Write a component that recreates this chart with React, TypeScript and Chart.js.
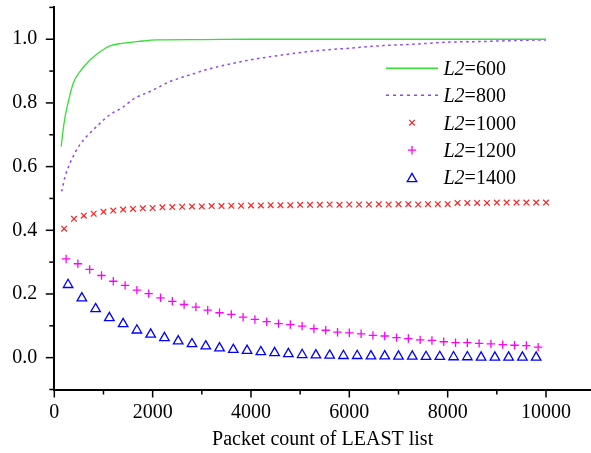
import { useEffect, useRef } from 'react';
import { Chart, registerables } from 'chart.js';

Chart.register(...registerables);

const FONT = '"Liberation Serif", "Times New Roman", serif';

// L2 values shown in legend
const l2Labels = ['600', '800', '1000', '1200', '1400'];

// L2=600 (solid green line)
const l2_600_x = [140, 180, 220, 285, 385, 520, 725, 930, 1130, 1370, 1710, 2080, 3000, 4000, 5000, 6000, 7000, 8000, 9000, 10000];
const l2_600_y = [0.663, 0.716, 0.757, 0.804, 0.862, 0.898, 0.935, 0.961, 0.979, 0.987, 0.993, 0.998, 0.999, 1.0, 1.0, 1.0, 1.0, 1.0, 1.0, 1.0];

// L2=800 (dotted purple line)
const l2_800_x = [150, 220, 320, 420, 520, 660, 895, 1130, 1370, 1640, 1950, 2350, 2760, 3130, 3980, 4660, 5340, 6010, 6690, 7370, 8050, 8720, 9400, 10000];
const l2_800_y = [0.522, 0.569, 0.611, 0.643, 0.669, 0.695, 0.731, 0.763, 0.784, 0.815, 0.836, 0.867, 0.888, 0.906, 0.935, 0.951, 0.964, 0.972, 0.980, 0.985, 0.991, 0.993, 0.996, 0.998];

// L2=1000 (red x markers)
const l2_1000_x = [200, 400, 600, 800, 1000, 1200, 1400, 1600, 1800, 2000, 2200, 2400, 2600, 2800, 3000, 3200, 3400, 3600, 3800, 4000, 4200, 4400, 4600, 4800, 5000, 5200, 5400, 5600, 5800, 6000, 6200, 6400, 6600, 6800, 7000, 7200, 7400, 7600, 7800, 8000, 8200, 8400, 8600, 8800, 9000, 9200, 9400, 9600, 9800, 10000];
const l2_1000_y = [0.405, 0.436, 0.446, 0.452, 0.458, 0.462, 0.465, 0.467, 0.469, 0.470, 0.472, 0.473, 0.474, 0.475, 0.475, 0.476, 0.476, 0.477, 0.477, 0.478, 0.478, 0.479, 0.479, 0.479, 0.480, 0.480, 0.480, 0.481, 0.480, 0.481, 0.481, 0.481, 0.482, 0.481, 0.482, 0.482, 0.481, 0.482, 0.482, 0.482, 0.486, 0.486, 0.486, 0.486, 0.487, 0.487, 0.487, 0.487, 0.487, 0.487];

// L2=1200 (magenta + markers)
const l2_1200_x = [240, 480, 720, 960, 1200, 1440, 1680, 1920, 2160, 2400, 2640, 2880, 3120, 3360, 3600, 3840, 4080, 4320, 4560, 4800, 5040, 5280, 5520, 5760, 6000, 6240, 6480, 6720, 6960, 7200, 7440, 7680, 7920, 8160, 8400, 8640, 8880, 9120, 9360, 9600, 9840];
const l2_1200_y = [0.310, 0.295, 0.277, 0.258, 0.240, 0.227, 0.212, 0.201, 0.188, 0.177, 0.167, 0.159, 0.149, 0.141, 0.136, 0.127, 0.120, 0.113, 0.107, 0.104, 0.099, 0.091, 0.086, 0.080, 0.078, 0.075, 0.070, 0.068, 0.063, 0.060, 0.056, 0.054, 0.050, 0.047, 0.047, 0.045, 0.043, 0.041, 0.039, 0.038, 0.033];

// L2=1400 (blue triangle markers)
const l2_1400_x = [280, 560, 840, 1120, 1400, 1680, 1960, 2240, 2520, 2800, 3080, 3360, 3640, 3920, 4200, 4480, 4760, 5040, 5320, 5600, 5880, 6160, 6440, 6720, 7000, 7280, 7560, 7840, 8120, 8400, 8680, 8960, 9240, 9520, 9800];
const l2_1400_y = [0.229, 0.187, 0.153, 0.125, 0.106, 0.086, 0.073, 0.062, 0.052, 0.043, 0.036, 0.030, 0.025, 0.022, 0.018, 0.015, 0.012, 0.009, 0.008, 0.007, 0.006, 0.006, 0.005, 0.005, 0.004, 0.004, 0.003, 0.003, 0.002, 0.002, 0.001, 0.001, 0.001, 0.001, 0.001];

// Axis ticks
const xLabelTicks = [0, 2000, 4000, 6000, 8000, 10000];
const xMinorTicks = [1000, 3000, 5000, 7000, 9000];
const yLabelTicks = [0, 0.2, 0.4, 0.6, 0.8, 1.0];
const yMinorTicks = [-0.1, 0.1, 0.3, 0.5, 0.7, 0.9, 1.1];

const GREEN = '#33e033';
const PURPLE = '#9040ff';
const RED = '#ff2020';
const MAGENTA = '#ff00ff';
const BLUE = '#0000ff';

function pts(xs: number[], ys: number[]) {
  return xs.map((x, i) => ({ x, y: ys[i] }));
}

function drawMarker(c: CanvasRenderingContext2D, style: string, x: number, y: number, r: number) {
  c.beginPath();
  if (style === 'cross') {
    c.moveTo(x - r, y); c.lineTo(x + r, y);
    c.moveTo(x, y - r); c.lineTo(x, y + r);
  } else if (style === 'crossRot') {
    const o = Math.cos(Math.PI / 4) * r;
    c.moveTo(x - o, y - o); c.lineTo(x + o, y + o);
    c.moveTo(x + o, y - o); c.lineTo(x - o, y + o);
  } else if (style === 'triangle') {
    let rad = 0;
    c.moveTo(x + Math.sin(rad) * r, y - Math.cos(rad) * r);
    rad += (2 * Math.PI) / 3;
    c.lineTo(x + Math.sin(rad) * r, y - Math.cos(rad) * r);
    rad += (2 * Math.PI) / 3;
    c.lineTo(x + Math.sin(rad) * r, y - Math.cos(rad) * r);
    c.closePath();
  }
  c.stroke();
}

export default function App() {
  const ref = useRef<HTMLCanvasElement>(null);

  useEffect(() => {
    const canvas = ref.current;
    if (!canvas) return;

    const tickPlugin = {
      id: 'axisTicks',
      afterDraw(chart: any) {
        const c: CanvasRenderingContext2D = chart.ctx;
        const xs = chart.scales.x;
        const ys = chart.scales.y;
        const area = chart.chartArea;
        c.save();
        c.strokeStyle = '#000';
        c.lineWidth = 1.5;
        const drawX = (v: number, len: number) => {
          const px = xs.getPixelForValue(v);
          c.beginPath();
          c.moveTo(px, area.bottom);
          c.lineTo(px, area.bottom + len);
          c.stroke();
        };
        const drawY = (v: number, len: number) => {
          const py = ys.getPixelForValue(v);
          c.beginPath();
          c.moveTo(area.left - len, py);
          c.lineTo(area.left, py);
          c.stroke();
        };
        xLabelTicks.forEach((v) => drawX(v, 8));
        xMinorTicks.forEach((v) => drawX(v, 5));
        yLabelTicks.forEach((v) => drawY(v, 8.5));
        yMinorTicks.forEach((v) => drawY(v, 5));
        c.restore();
      },
    };

    const legendPlugin = {
      id: 'mapleLegend',
      afterDraw(chart: any) {
        const c: CanvasRenderingContext2D = chart.ctx;
        const rowsY = [68.3, 95.3, 122.7, 150.2, 177.5];
        const x0 = 386;
        const x1 = 438;
        const mx = 412;
        const tx = 443.5;
        c.save();
        c.strokeStyle = GREEN; c.lineWidth = 1.5; c.setLineDash([]);
        c.beginPath(); c.moveTo(x0, rowsY[0]); c.lineTo(x1, rowsY[0]); c.stroke();
        c.strokeStyle = PURPLE; c.lineWidth = 1.5; c.setLineDash([3, 4]);
        c.beginPath(); c.moveTo(x0, rowsY[1]); c.lineTo(x1, rowsY[1]); c.stroke();
        c.setLineDash([]);
        c.strokeStyle = RED; c.lineWidth = 1.2;
        drawMarker(c, 'crossRot', mx, rowsY[2], 4);
        c.strokeStyle = MAGENTA; c.lineWidth = 1.3;
        drawMarker(c, 'cross', mx, rowsY[3], 4.2);
        c.strokeStyle = BLUE; c.lineWidth = 1.3;
        drawMarker(c, 'triangle', mx, rowsY[4] + 1.4, 5.5);
        c.fillStyle = '#000';
        c.textBaseline = 'alphabetic';
        c.textAlign = 'left';
        l2Labels.forEach((lab, i) => {
          const base = rowsY[i] + 6.8;
          c.font = `italic 20px ${FONT}`;
          c.fillText('L2', tx, base);
          const w = c.measureText('L2').width;
          c.font = `20px ${FONT}`;
          c.fillText('=' + lab, tx + w, base);
        });
        c.restore();
      },
    };

    const chart = new Chart(canvas, {
      type: 'scatter',
      data: {
        datasets: [
          {
            label: 'L2=600',
            data: pts(l2_600_x, l2_600_y),
            showLine: true,
            borderColor: GREEN,
            borderWidth: 1.3,
            pointRadius: 0,
            cubicInterpolationMode: 'monotone',
          },
          {
            label: 'L2=800',
            data: pts(l2_800_x, l2_800_y),
            showLine: true,
            borderColor: PURPLE,
            borderWidth: 1.5,
            borderDash: [2.5, 3.5],
            pointRadius: 0,
            cubicInterpolationMode: 'monotone',
          },
          {
            label: 'L2=1000',
            data: pts(l2_1000_x, l2_1000_y),
            showLine: false,
            pointStyle: 'crossRot',
            pointRadius: 4,
            borderColor: RED,
            backgroundColor: 'rgba(0,0,0,0)',
            pointBorderWidth: 1.2,
          },
          {
            label: 'L2=1200',
            data: pts(l2_1200_x, l2_1200_y),
            showLine: false,
            pointStyle: 'cross',
            pointRadius: 4.2,
            borderColor: MAGENTA,
            backgroundColor: 'rgba(0,0,0,0)',
            pointBorderWidth: 1.3,
          },
          {
            label: 'L2=1400',
            data: pts(l2_1400_x, l2_1400_y),
            showLine: false,
            pointStyle: 'triangle',
            pointRadius: 5.5,
            borderColor: BLUE,
            backgroundColor: 'rgba(0,0,0,0)',
            pointBorderWidth: 1.3,
          },
        ] as any,
      },
      options: {
        animation: false,
        responsive: false,
        events: [],
        layout: { autoPadding: false, padding: { top: 7.4, left: 0, right: 0, bottom: 0 } },
        plugins: {
          legend: { display: false },
          tooltip: { enabled: false },
        },
        scales: {
          x: {
            type: 'linear',
            min: 0,
            max: 10915,
            grid: { display: false, drawTicks: false },
            border: { display: true, color: '#000', width: 2 },
            afterBuildTicks: (s: any) => {
              s.ticks = xLabelTicks.map((v) => ({ value: v }));
            },
            afterFit: (s: any) => {
              s.height = 63.5;
              s.paddingLeft = 0;
              s.paddingRight = 0;
            },
            ticks: {
              autoSkip: false,
              maxRotation: 0,
              padding: 11.5,
              color: '#000',
              font: { family: FONT, size: 20 },
              callback: (v: any) => String(v),
            },
            title: {
              display: true,
              text: 'Packet count of LEAST list',
              color: '#000',
              font: { family: FONT, size: 20 },
              padding: { top: 0, bottom: 1.5 },
            },
          },
          y: {
            type: 'linear',
            min: -0.1,
            max: 1.1,
            grid: { display: false, drawTicks: false },
            border: { display: true, color: '#000', width: 2 },
            afterBuildTicks: (s: any) => {
              s.ticks = yLabelTicks.map((v) => ({ value: v }));
            },
            afterFit: (s: any) => {
              s.width = 54.3;
              s.paddingTop = 0;
              s.paddingBottom = 0;
            },
            ticks: {
              autoSkip: false,
              padding: 17,
              color: '#000',
              font: { family: FONT, size: 20 },
              callback: (v: any) => Number(v).toFixed(1),
            },
          },
        },
      } as any,
      plugins: [tickPlugin, legendPlugin],
    });

    return () => chart.destroy();
  }, []);

  return (
    <canvas
      ref={ref}
      width={591}
      height={453}
      style={{ position: 'absolute', left: 0, top: 0, display: 'block', background: '#fff' }}
    />
  );
}
